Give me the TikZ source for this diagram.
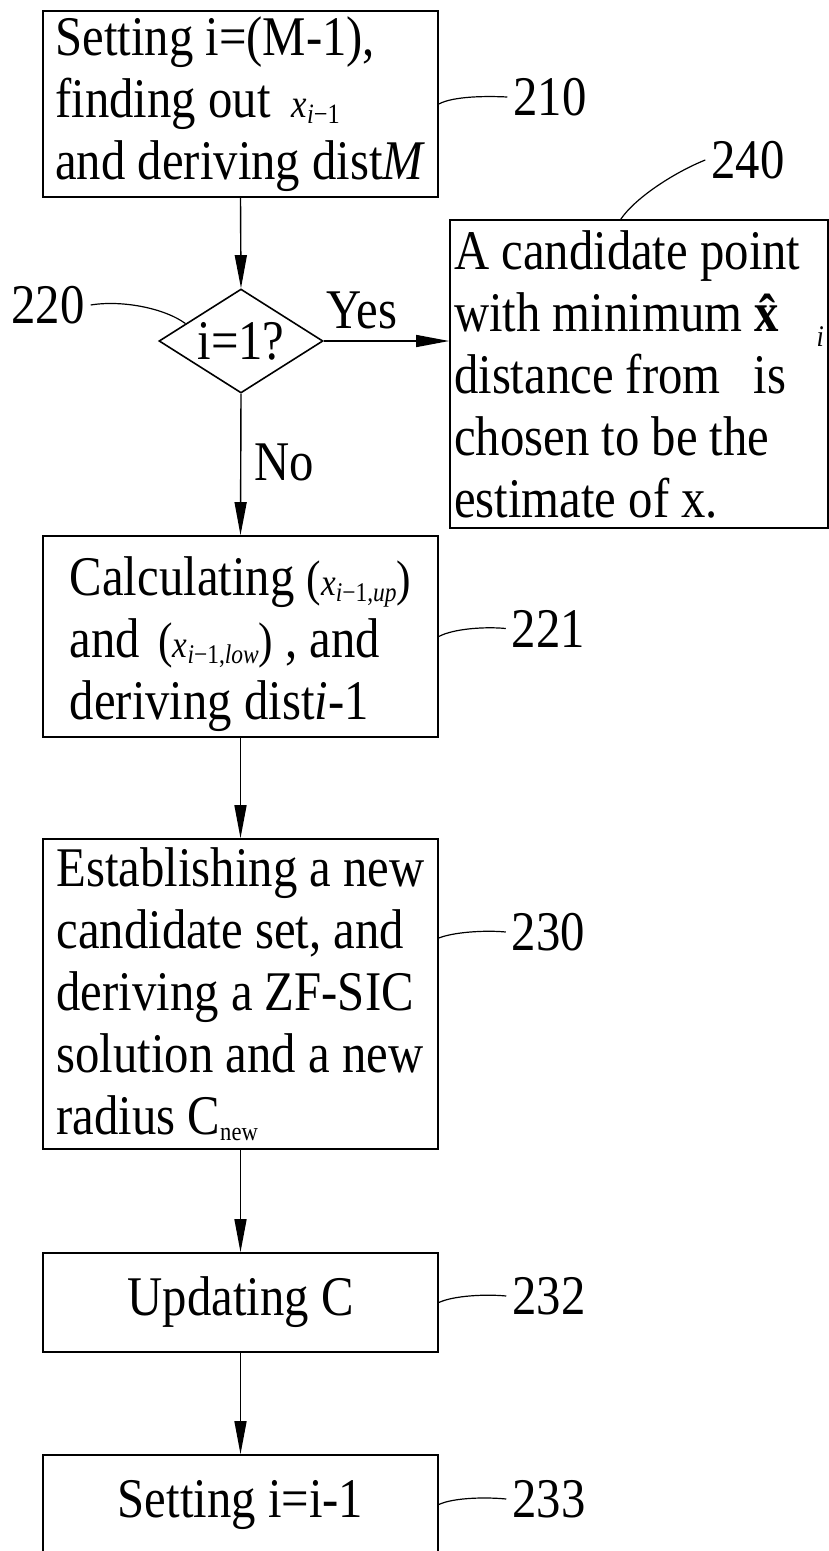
\documentclass[tikz,border=0pt]{standalone}
\usepackage{fontspec}
\setmainfont{Liberation Serif}[FakeStretch=0.87]
\usetikzlibrary{shapes.geometric,arrows.meta,calc}
\newcommand{\xsub}[3]{{\fontsize{#1}{#1}\selectfont\textit{x}}\raisebox{-6pt}{\fontsize{#2}{#2}\selectfont #3}}
\newcommand{\pv}[1]{{\fontsize{50}{50}\selectfont(}#1{\fontsize{50}{50}\selectfont)}}
\begin{document}
\begin{tikzpicture}[x=1pt,y=1pt,
  txt/.style={font=\fontsize{56}{62}\selectfont},
  box/.style={txt, draw, line width=1.6pt, rectangle, inner sep=0pt, minimum width=395pt, align=left},
  dec/.style={txt, draw, line width=1.6pt, diamond, inner sep=0pt, aspect=1.58, minimum width=164pt, minimum height=104pt},
  lab/.style={txt, inner xsep=6pt, inner ysep=0pt},
  arr/.style={line width=1.4pt, -{Triangle[length=33pt,width=12pt]}},
  lead/.style={line width=1.2pt}]
\fill[white] (0,0) rectangle (829,-1551);
\useasboundingbox (0,0) rectangle (829,-1551);

% boxes
\node[box, minimum height=186pt] (b210) at (240.5,-104)
  {Setting i=(M-1),\\ finding out\hspace{9pt} \xsub{40}{28}{\textit{i}−1}\\ and deriving dist\textit{M}\rule[-8pt]{0pt}{8pt}};
\node[dec] (d220) at (241,-341) {i=1?};
\node[box, minimum width=378pt, minimum height=308pt] (b240) at (639,-374)
  {A candidate point\\ with minimum \textbf{\^x}\hspace{30pt}\raisebox{-15pt}{\fontsize{30}{30}\selectfont\textit{i}}\\ distance from\hspace{21pt} is\\ chosen to be the\\ estimate of x.};
\node[box, minimum height=201pt] (b221) at (240.5,-636.5)
  {\rule{0pt}{55pt}Calculating \pv{\xsub{38}{27}{\textit{i}−1,\textit{up}}}\\ and\hspace{6pt} \pv{\xsub{38}{27}{\textit{i}−1,\textit{low}}} , and\\ deriving dist\textit{i}-1};
\node[box, minimum height=310pt] (b230) at (240.5,-994)
  {Establishing a new\\ candidate set, and\\ deriving a ZF-SIC\\ solution and a new\\ radius C\raisebox{-6pt}{\fontsize{26}{26}\selectfont new}};
\node[box, minimum height=99pt] (b232) at (240.5,-1302.5) {Updating C};
\node[box, minimum height=99pt] (b233) at (240.5,-1504.5) {Setting i=i-1};

% branch labels
\node[txt, inner sep=0pt] (yes) at (362,-310) {Yes};
\node[txt, inner sep=0pt] (no) at (284,-462) {No};

% reference numerals
\node[lab] (l210) at (550,-97) {210};
\node[lab] (l220) at (48,-305) {220};
\node[lab] (l240) at (748,-160) {240};
\node[lab] (l221) at (548.5,-628.5) {221};
\node[lab] (l230) at (548.5,-932) {230};
\node[lab] (l232) at (549,-1296) {232};
\node[lab] (l233) at (549,-1499) {233};

% connectors
\draw[arr] (b210.south) -- (d220.north);
\draw[arr] (d220.east) -- (d220.east -| b240.west);
\draw[arr] (d220.south) -- (b221.north);
\draw[arr] (b221.south) -- (b230.north);
\draw[arr] (b230.south) -- (b232.north);
\draw[arr] (b232.south) -- (b233.north);

% leader lines
\coordinate (p220) at ($(d220.west)!0.33!(d220.north)$);
\coordinate (p240) at ($(b240.north west)!0.452!(b240.north east)$);
\coordinate (p230) at ($(b230.east|-l230.west)+(0,-6)$);
\draw[lead] (b210.east) .. controls ($(b210.east)+(15,8)$) and ($(l210.west)+(-20,1)$) .. (l210.west);
\draw[lead] (l220.east) .. controls ($(l220.east)+(30,5)$) and ($(p220)+(-22,16)$) .. (p220);
\draw[lead] (p240) .. controls ($(p240)+(15,22)$) and ($(l240.west)+(-30,-12)$) .. (l240.west);
\draw[lead] (b221.east) .. controls ($(b221.east)+(15,8)$) and ($(l221.west)+(-20,2)$) .. (l221.west);
\draw[lead] (p230) .. controls ($(p230)+(15,6)$) and ($(l230.west)+(-20,2)$) .. (l230.west);
\draw[lead] (b232.east) .. controls ($(b232.east)+(15,7)$) and ($(l232.west)+(-20,2)$) .. (l232.west);
\draw[lead] (b233.east) .. controls ($(b233.east)+(15,7)$) and ($(l233.west)+(-20,2)$) .. (l233.west);
\end{tikzpicture}
\end{document}
